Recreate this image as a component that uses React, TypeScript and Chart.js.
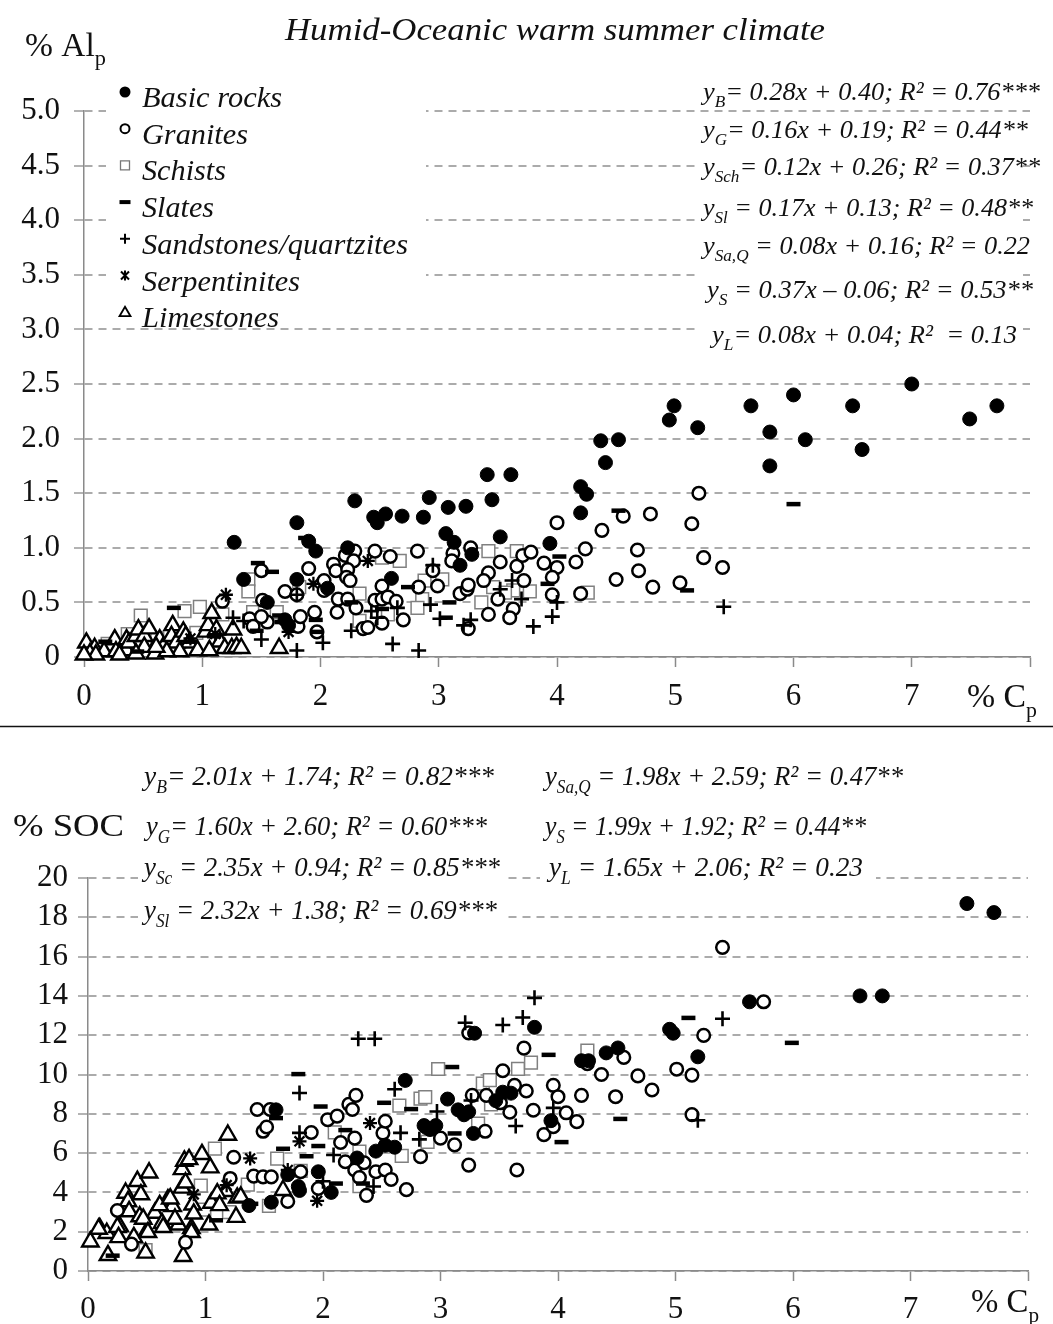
import React, { useEffect, useRef } from 'react';
import { Chart, registerables } from 'chart.js';

Chart.register(...registerables);

type Pt = [number, number];

// ---------------- Top panel: % Alp vs % Cp ----------------
const alBasic: Pt[] = [
  [1.27, 1.05], [1.80, 1.23], [1.90, 1.06], [1.96, 0.97], [1.35, 0.71], [1.80, 0.71], [2.06, 0.63], [1.55, 0.50],
  [1.70, 0.34], [1.73, 0.29], [2.23, 1.00], [2.29, 1.43], [2.45, 1.28], [2.48, 1.23], [2.55, 1.31], [2.60, 0.72],
  [2.69, 1.29], [2.87, 1.28], [2.92, 1.46], [3.06, 1.13], [3.08, 1.37], [3.13, 1.05], [3.18, 0.84], [3.23, 1.38],
  [3.28, 0.94], [3.41, 1.67], [3.45, 1.44], [3.52, 1.10], [3.61, 1.67], [3.94, 1.04], [4.20, 1.56], [4.25, 1.49],
  [4.20, 1.32], [4.37, 1.98], [4.41, 1.78], [4.52, 1.99], [4.95, 2.17], [4.99, 2.30], [5.19, 2.10], [5.64, 2.30],
  [5.80, 2.06], [5.80, 1.75], [6.00, 2.40], [6.10, 1.99], [6.50, 2.30], [6.58, 1.90], [7.00, 2.50], [7.49, 2.18],
  [7.72, 2.30],
];
const alGranite: Pt[] = [
  [1.17, 0.51], [1.50, 0.79], [1.70, 0.60], [1.80, 0.57], [1.90, 0.81], [1.51, 0.52], [1.40, 0.35], [1.43, 0.28],
  [1.55, 0.32], [1.50, 0.37], [1.81, 0.28], [1.83, 0.37], [1.95, 0.41], [1.97, 0.23], [2.03, 0.61], [2.29, 0.97],
  [2.21, 0.93], [2.11, 0.85], [2.28, 0.88], [2.13, 0.79], [2.23, 0.80], [2.22, 0.73], [2.25, 0.70], [2.03, 0.70],
  [2.15, 0.53], [2.23, 0.53], [2.30, 0.45], [2.14, 0.41], [2.46, 0.97], [2.59, 0.92], [2.52, 0.65], [2.46, 0.52],
  [2.52, 0.53], [2.57, 0.55], [2.64, 0.51], [2.52, 0.31], [2.70, 0.34], [2.36, 0.26], [2.40, 0.27], [2.82, 0.97],
  [2.95, 0.79], [2.83, 0.64], [2.99, 0.65], [3.12, 0.95], [3.11, 0.88], [3.27, 1.00], [3.18, 0.58], [3.24, 0.62],
  [3.25, 0.66], [3.25, 0.26], [3.42, 0.77], [3.38, 0.70], [3.52, 0.87], [3.42, 0.39], [3.50, 0.53], [3.63, 0.44],
  [3.60, 0.36], [3.66, 0.83], [3.71, 0.93], [3.78, 0.96], [3.72, 0.70], [3.89, 0.86], [4.00, 1.23], [4.00, 0.82],
  [3.96, 0.73], [3.96, 0.57], [4.24, 0.99], [4.16, 0.87], [4.38, 1.16], [4.56, 1.29], [4.79, 1.31], [4.68, 0.98],
  [4.69, 0.79], [4.50, 0.71], [4.81, 0.64], [5.14, 1.22], [5.20, 1.50], [5.04, 0.68], [5.24, 0.91], [5.40, 0.82],
  [4.20, 0.58],
];
const alSchist: Pt[] = [
  [1.39, 0.71], [1.39, 0.60], [1.82, 0.64], [0.48, 0.38], [0.85, 0.42], [0.98, 0.46], [1.17, 0.39], [1.43, 0.41],
  [1.53, 0.41], [1.63, 0.41], [0.37, 0.21], [0.95, 0.22], [2.33, 0.58], [2.52, 0.91], [2.67, 0.88], [2.95, 0.79],
  [3.03, 0.71], [2.88, 0.70], [2.86, 0.53], [2.82, 0.45], [2.57, 0.39], [2.33, 0.33], [3.42, 0.97], [3.66, 0.97],
  [3.36, 0.50], [3.46, 0.64], [3.63, 0.61], [3.77, 0.60], [3.56, 0.59], [4.26, 0.59], [0.20, 0.12], [0.62, 0.17],
];
const alSlate: Pt[] = [
  [0.18, 0.14], [0.76, 0.45], [1.47, 0.86], [1.59, 0.78], [1.87, 1.09], [1.46, 0.24], [1.65, 0.38], [1.67, 0.32],
  [1.96, 0.34], [1.97, 0.23], [2.26, 0.50], [2.52, 0.44], [2.74, 0.64], [3.09, 0.50], [3.06, 0.36], [3.92, 0.67],
  [4.02, 0.92], [4.52, 1.34], [5.10, 0.61], [6.00, 1.40], [0.45, 0.05], [0.90, 0.14], [1.10, 0.19],
];
const alSandstone: Pt[] = [
  [1.26, 0.36], [1.35, 0.33], [1.50, 0.16], [1.80, 0.06], [2.02, 0.13], [2.26, 0.24], [2.43, 0.42], [2.48, 0.36],
  [2.61, 0.12], [2.65, 0.45], [2.83, 0.06], [2.93, 0.48], [2.95, 0.84], [3.01, 0.35], [3.21, 0.29], [3.27, 0.34],
  [3.52, 0.62], [3.62, 0.70], [3.70, 0.53], [3.80, 0.28], [3.96, 0.37], [4.00, 0.50], [5.41, 0.46], [1.80, 0.57],
];
const alSerpentinite: Pt[] = [
  [0.90, 0.17], [1.11, 0.21], [1.20, 0.57], [1.73, 0.23], [1.94, 0.67], [2.40, 0.88],
];
const alLimestone: Pt[] = [
  [0.02, 0.13], [0.09, 0.08], [0.05, 0.03], [0.17, 0.05], [0.26, 0.16], [0.27, 0.05], [0.36, 0.16], [0.36, 0.06],
  [0.38, 0.13], [0.44, 0.19], [0.46, 0.25], [0.51, 0.19], [0.55, 0.26], [0.51, 0.09], [0.60, 0.03], [0.64, 0.16],
  [0.67, 0.09], [0.75, 0.29], [0.74, 0.19], [0.78, 0.13], [0.84, 0.23], [0.86, 0.19], [0.89, 0.13], [0.96, 0.06],
  [1.03, 0.23], [1.05, 0.29], [1.08, 0.40], [1.12, 0.25], [1.15, 0.14], [1.19, 0.08], [1.25, 0.08], [1.29, 0.09],
  [1.33, 0.08], [1.26, 0.25], [1.06, 0.06], [0.81, 0.05], [0.70, 0.05], [0.44, 0.03], [0.10, 0.02], [0.00, 0.02],
  [0.30, 0.02], [0.61, 0.09], [1.65, 0.08],
];

// ---------------- Bottom panel: % SOC vs % Cp ----------------
const socBasic: Pt[] = [
  [1.37, 3.33], [1.56, 3.50], [1.60, 8.20], [1.70, 4.90], [1.79, 4.30], [1.80, 4.10], [1.96, 5.05], [2.07, 4.00],
  [2.29, 5.75], [2.45, 6.10], [2.53, 6.40], [2.61, 6.30], [2.70, 9.70], [2.86, 7.40], [2.88, 7.30], [2.91, 7.20],
  [2.96, 7.40], [3.06, 8.75], [3.15, 8.20], [3.20, 7.95], [3.24, 8.10], [3.29, 12.10], [3.28, 7.00], [3.47, 8.67],
  [3.53, 9.10], [3.60, 9.05], [3.80, 12.40], [3.94, 7.65], [4.20, 10.70], [4.26, 10.70], [4.41, 11.10], [4.51, 11.35],
  [4.95, 12.30], [4.98, 12.10], [5.19, 10.90], [5.63, 13.70], [6.57, 14.00], [6.76, 14.00], [7.48, 18.70], [7.71, 18.24],
];
const socGranite: Pt[] = [
  [0.25, 3.08], [0.37, 1.37], [0.83, 1.46], [1.21, 4.71], [1.24, 5.79], [1.41, 4.83], [1.44, 8.22], [1.49, 7.11],
  [1.52, 7.33], [1.49, 4.79], [1.55, 8.22], [1.56, 4.79], [1.70, 3.54], [1.81, 5.05], [1.90, 7.05], [1.96, 4.20],
  [2.04, 7.70], [2.12, 7.88], [2.15, 6.54], [2.19, 5.56], [2.22, 8.48], [2.25, 8.22], [2.27, 5.14], [2.27, 6.76],
  [2.28, 8.94], [2.31, 4.76], [2.35, 5.51], [2.37, 3.85], [2.45, 5.05], [2.51, 7.02], [2.53, 7.62], [2.53, 5.14],
  [2.58, 4.66], [2.71, 4.14], [2.83, 5.82], [3.00, 6.76], [3.12, 6.42], [3.24, 5.39], [3.24, 12.12], [3.27, 8.94],
  [3.38, 7.11], [3.39, 8.94], [3.51, 8.56], [3.53, 10.19], [3.59, 8.08], [3.63, 9.45], [3.65, 5.14], [3.71, 11.34],
  [3.73, 9.16], [3.79, 8.18], [3.88, 6.94], [3.96, 7.34], [3.96, 9.45], [4.00, 8.87], [4.07, 8.05], [4.16, 7.60],
  [4.20, 8.94], [4.25, 10.55], [4.37, 10.00], [4.49, 8.87], [4.56, 10.87], [4.68, 9.93], [4.80, 9.21], [5.01, 10.27],
  [5.14, 9.97], [5.14, 7.96], [5.24, 11.99], [5.40, 16.47], [5.75, 13.70],
];
const socSchist: Pt[] = [
  [0.49, 1.06], [0.96, 4.35], [0.99, 3.12], [1.08, 6.23], [1.20, 3.00], [1.36, 4.40], [1.54, 3.32], [1.61, 5.72],
  [1.81, 5.09], [2.10, 7.05], [2.31, 6.08], [2.31, 4.32], [2.65, 8.42], [2.67, 5.86], [2.83, 8.77], [2.87, 8.85],
  [2.89, 6.57], [2.98, 10.28], [3.32, 7.50], [3.36, 9.54], [3.42, 9.71], [3.43, 8.48], [3.66, 10.29], [3.77, 10.60],
  [4.25, 11.22],
];
const socSlate: Pt[] = [
  [0.21, 0.78], [1.09, 2.58], [1.39, 3.42], [1.60, 7.78], [1.66, 6.22], [1.79, 10.02], [1.86, 5.84], [1.96, 6.36],
  [1.98, 8.37], [2.11, 4.45], [2.19, 7.17], [2.34, 4.45], [2.52, 8.56], [2.75, 8.24], [3.10, 10.38], [3.12, 7.00],
  [3.92, 11.00], [4.03, 6.56], [4.53, 7.74], [5.11, 12.88], [5.99, 11.61],
];
const socSandstone: Pt[] = [
  [1.80, 9.06], [1.80, 7.03], [2.00, 4.57], [2.09, 5.90], [2.30, 11.82], [2.44, 11.82], [2.43, 4.30], [2.61, 9.25],
  [2.66, 7.03], [2.82, 6.70], [2.97, 8.12], [3.21, 12.63], [3.26, 8.68], [3.53, 12.52], [3.64, 7.38], [3.70, 12.90],
  [3.80, 13.90], [3.96, 8.30], [5.19, 7.67], [5.40, 12.84],
];
const socSerpentinite: Pt[] = [
  [0.90, 3.90], [1.18, 4.37], [1.38, 5.73], [1.70, 5.14], [1.80, 6.60], [1.95, 3.57], [2.40, 7.53],
];
const socLimestone: Pt[] = [
  [0.02, 1.49], [0.10, 2.17], [0.16, 1.92], [0.17, 0.80], [0.27, 2.26], [0.32, 3.97], [0.34, 3.54], [0.35, 3.03],
  [0.42, 4.57], [0.45, 3.89], [0.44, 2.77], [0.52, 5.00], [0.50, 2.00], [0.49, 0.92], [0.57, 2.95], [0.63, 2.43],
  [0.68, 3.63], [0.72, 3.29], [0.77, 2.35], [0.80, 5.17], [0.82, 5.60], [0.80, 4.23], [0.83, 4.49], [0.86, 5.68],
  [0.89, 3.37], [0.88, 2.17], [0.81, 0.75], [0.97, 5.94], [1.04, 5.26], [1.05, 3.46], [1.03, 2.35], [1.17, 4.06],
  [1.19, 6.92], [1.27, 3.72], [1.26, 2.74], [1.66, 4.11], [0.09, 2.14], [0.25, 2.23], [0.39, 1.71], [0.26, 1.71],
  [0.61, 3.34], [0.70, 3.68], [0.74, 2.65], [0.47, 2.65], [0.90, 2.91], [0.88, 1.97], [1.10, 3.94], [1.12, 3.34],
  [1.30, 3.77], [0.51, 1.97], [0.64, 2.23],
];

// ---------------- Labels ----------------
const seriesNames = ['Basic rocks', 'Granites', 'Schists', 'Slates', 'Sandstones/quartzites', 'Serpentinites', 'Limestones'];
const seriesKinds = ['basic', 'granite', 'schist', 'slate', 'sand', 'serp', 'lime'];
const xTickMax = 8;

const alEqSubs = ['B', 'G', 'Sch', 'Sl', 'Sa,Q', 'S', 'L'];
const alEqTexts = [
  '= 0.28x + 0.40; R² = 0.76***',
  '= 0.16x + 0.19; R² = 0.44**',
  '= 0.12x + 0.26; R² = 0.37**',
  ' = 0.17x + 0.13; R² = 0.48**',
  ' = 0.08x + 0.16; R² = 0.22',
  ' = 0.37x – 0.06; R² = 0.53**',
  '= 0.08x + 0.04; R²  = 0.13',
];
const socEqSubs = ['B', 'G', 'Sc', 'Sl', 'Sa,Q', 'S', 'L'];
const socEqTexts = [
  '= 2.01x + 1.74; R² = 0.82***',
  '= 1.60x + 2.60; R² = 0.60***',
  ' = 2.35x + 0.94; R² = 0.85***',
  ' = 2.32x + 1.38; R² = 0.69***',
  ' = 1.98x + 2.59; R² = 0.47**',
  ' = 1.99x + 1.92; R² = 0.44**',
  ' = 1.65x + 2.06; R² = 0.23',
];

const SERIF = '"Liberation Serif", "DejaVu Serif", "Times New Roman", serif';

type Seg = { t: string; size: number; dy?: number; italic?: boolean };

function drawRich(ctx: CanvasRenderingContext2D, segs: Seg[], x: number, baseline: number, targetW?: number) {
  ctx.save();
  const fonts = segs.map((s) => `${s.italic ? 'italic ' : ''}${s.size}px ${SERIF}`);
  let total = 0;
  const ws = segs.map((s, i) => {
    ctx.font = fonts[i];
    const w = ctx.measureText(s.t).width;
    total += w;
    return w;
  });
  const sx = targetW ? targetW / total : 1;
  ctx.translate(x, baseline);
  ctx.scale(sx, 1);
  ctx.fillStyle = '#111';
  ctx.textBaseline = 'alphabetic';
  ctx.textAlign = 'left';
  let cx = 0;
  segs.forEach((s, i) => {
    ctx.font = fonts[i];
    ctx.fillText(s.t, cx, s.dy || 0);
    cx += ws[i];
  });
  ctx.restore();
}

function eqSegs(sub: string, rest: string, size: number): Seg[] {
  return [
    { t: 'y', size, italic: true },
    { t: sub, size: Math.round(size * 0.66), dy: size * 0.28, italic: true },
    { t: rest, size, italic: true },
  ];
}

function drawMarker(ctx: CanvasRenderingContext2D, kind: string, x: number, y: number) {
  ctx.save();
  ctx.strokeStyle = '#000';
  ctx.fillStyle = '#000';
  ctx.lineWidth = 2;
  ctx.beginPath();
  if (kind === 'basic') {
    ctx.arc(x, y, 5.5, 0, Math.PI * 2);
    ctx.fill();
  } else if (kind === 'granite') {
    ctx.arc(x, y, 4.5, 0, Math.PI * 2);
    ctx.stroke();
  } else if (kind === 'schist') {
    ctx.strokeStyle = '#777';
    ctx.lineWidth = 1.3;
    ctx.rect(x - 4.5, y - 4.5, 9, 9);
    ctx.stroke();
  } else if (kind === 'slate') {
    ctx.lineWidth = 4;
    ctx.moveTo(x - 5.5, y);
    ctx.lineTo(x + 5.5, y);
    ctx.stroke();
  } else if (kind === 'sand') {
    ctx.moveTo(x - 5, y);
    ctx.lineTo(x + 5, y);
    ctx.moveTo(x, y - 5);
    ctx.lineTo(x, y + 5);
    ctx.stroke();
  } else if (kind === 'serp') {
    ctx.moveTo(x - 4, y - 4);
    ctx.lineTo(x + 4, y + 4);
    ctx.moveTo(x + 4, y - 4);
    ctx.lineTo(x - 4, y + 4);
    ctx.moveTo(x, y - 5);
    ctx.lineTo(x, y + 5);
    ctx.stroke();
  } else if (kind === 'lime') {
    ctx.lineWidth = 1.8;
    ctx.moveTo(x, y - 5.5);
    ctx.lineTo(x + 5.5, y + 4);
    ctx.lineTo(x - 5.5, y + 4);
    ctx.closePath();
    ctx.stroke();
  }
  ctx.restore();
}

const pointStyles: Record<string, any> = {
  basic: { pointStyle: 'circle', pointRadius: 7, pointBackgroundColor: '#000', pointBorderColor: '#000', pointBorderWidth: 1 },
  granite: { pointStyle: 'circle', pointRadius: 6.3, pointBackgroundColor: '#fff', pointBorderColor: '#000', pointBorderWidth: 2.5 },
  schist: { pointStyle: 'rect', pointRadius: 9, pointBackgroundColor: '#fff', pointBorderColor: '#808080', pointBorderWidth: 1.5 },
  slate: { pointStyle: 'line', pointRadius: 7, pointBackgroundColor: '#000', pointBorderColor: '#000', pointBorderWidth: 4.5 },
  sand: { pointStyle: 'cross', pointRadius: 7.5, pointBackgroundColor: '#000', pointBorderColor: '#000', pointBorderWidth: 2.6 },
  serp: { pointStyle: 'star', pointRadius: 7, pointBackgroundColor: '#000', pointBorderColor: '#000', pointBorderWidth: 2.3 },
  lime: { pointStyle: 'triangle', pointRadius: 9.5, pointBackgroundColor: '#fff', pointBorderColor: '#000', pointBorderWidth: 2.4 },
};

function dataset(label: string, pts: Pt[], kind: string) {
  const st = pointStyles[kind];
  return {
    label,
    data: pts.map(([x, y]) => ({ x, y })),
    showLine: false,
    clip: false,
    ...st,
    pointHoverRadius: st.pointRadius,
  };
}

function buildOptions(cfg: any) {
  return {
    animation: false,
    responsive: false,
    devicePixelRatio: 1,
    events: [],
    layout: { padding: { top: cfg.padTop, right: cfg.padRight, left: 0, bottom: 0 } },
    plugins: { legend: { display: false }, tooltip: { enabled: false }, title: { display: false } },
    scales: {
      x: {
        type: 'linear',
        min: 0,
        max: xTickMax,
        afterFit: (s: any) => { s.height = cfg.xH; },
        ticks: {
          stepSize: 1,
          autoSkip: false,
          maxRotation: 0,
          padding: cfg.xPad,
          color: '#111',
          font: { family: SERIF, size: 31 },
          callback: (v: any) => (v < xTickMax ? String(v) : ''),
        },
        grid: { drawOnChartArea: false, drawTicks: true, tickLength: 10, tickColor: '#8a8a8a', tickWidth: 1.5 },
        border: { color: '#8a8a8a', width: 1.5 },
      },
      y: {
        type: 'linear',
        min: 0,
        max: cfg.yMax,
        afterFit: (s: any) => { s.width = cfg.yW; },
        ticks: {
          stepSize: cfg.yStep,
          autoSkip: false,
          padding: cfg.yPad,
          color: '#111',
          font: { family: SERIF, size: 31 },
          callback: cfg.yFmt,
        },
        grid: { color: '#ababab', lineWidth: 2, tickLength: 10, tickColor: '#9a9a9a', tickWidth: 1.5 },
        border: { color: '#8a8a8a', width: 1.5, dash: [8, 6] },
      },
    },
  };
}

export default function App() {
  const topRef = useRef<HTMLCanvasElement | null>(null);
  const botRef = useRef<HTMLCanvasElement | null>(null);

  useEffect(() => {
    const topDeco = {
      id: 'topDeco',
      beforeDatasetsDraw(chart: any) {
        const ctx = chart.ctx;
        ctx.save();
        ctx.fillStyle = '#fff';
        ctx.fillRect(106, 78, 320, 246);
        ctx.fillRect(699, 140, 324, 210);
        ctx.restore();
      },
      afterDraw(chart: any) {
        const ctx: CanvasRenderingContext2D = chart.ctx;
        drawRich(ctx, [{ t: 'Humid-Oceanic warm summer climate', size: 31, italic: true }], 285, 40, 540);
        drawRich(ctx, [{ t: '% Al', size: 33 }, { t: 'p', size: 22, dy: 9 }], 25, 56, 81);
        const legW = [140, 106, 84, 72, 266, 158, 137];
        seriesNames.forEach((name, i) => {
          const base = 107 + i * 36.7;
          drawMarker(ctx, seriesKinds[i], 125, base - 15);
          drawRich(ctx, [{ t: name, size: 30, italic: true }], 142, base, legW[i]);
        });
        const eqX = [703, 703, 703, 703, 703, 707, 712];
        const eqR = [1040, 1028, 1040, 1033, 1030, 1033, 1017];
        const eqB = [100, 138, 175, 216, 254, 298, 343];
        alEqSubs.forEach((sub, i) => {
          drawRich(ctx, eqSegs(sub, alEqTexts[i], 26), eqX[i], eqB[i], eqR[i] - eqX[i]);
        });
        drawRich(ctx, [{ t: '% C', size: 34 }, { t: 'p', size: 22, dy: 10 }], 967, 707, 70);
        ctx.save();
        ctx.strokeStyle = '#111';
        ctx.lineWidth = 1.5;
        ctx.beginPath();
        ctx.moveTo(0, 726.5);
        ctx.lineTo(1053, 726.5);
        ctx.stroke();
        ctx.restore();
      },
    };

    const botDeco = {
      id: 'botDeco',
      beforeDatasetsDraw(chart: any) {
        const ctx = chart.ctx;
        ctx.save();
        ctx.fillStyle = '#fff';
        ctx.fillRect(138, 25, 368, 172);
        ctx.fillRect(540, 25, 336, 135);
        ctx.restore();
      },
      afterDraw(chart: any) {
        const ctx: CanvasRenderingContext2D = chart.ctx;
        drawRich(ctx, [{ t: '% SOC', size: 31 }], 13, 108, 111);
        const lx = [144, 146, 144, 144, 545, 545, 549];
        const lr = [494, 487, 500, 497, 903, 866, 863];
        const lb = [57, 107, 148, 191, 57, 107, 148];
        socEqSubs.forEach((sub, i) => {
          drawRich(ctx, eqSegs(sub, socEqTexts[i], 28), lx[i], lb[i], lr[i] - lx[i]);
        });
        drawRich(ctx, [{ t: '% C', size: 34 }, { t: 'p', size: 22, dy: 10 }], 971, 584, 68);
      },
    };

    const topChart = new Chart(topRef.current as HTMLCanvasElement, {
      type: 'scatter',
      data: {
        datasets: [
          dataset(seriesNames[0], alBasic, 'basic'),
          dataset(seriesNames[3], alSlate, 'slate'),
          dataset(seriesNames[4], alSandstone, 'sand'),
          dataset(seriesNames[5], alSerpentinite, 'serp'),
          dataset(seriesNames[1], alGranite, 'granite'),
          dataset(seriesNames[6], alLimestone, 'lime'),
          dataset(seriesNames[2], alSchist, 'schist'),
        ],
      },
      options: buildOptions({
        padTop: 111, padRight: 23, xH: 728 - 657, yW: 84, xPad: 11, yPad: 14,
        yMax: 5, yStep: 0.5,
        yFmt: (v: any) => (v === 0 ? '0' : Number(v).toFixed(1)),
      }) as any,
      plugins: [topDeco],
    });

    const botChart = new Chart(botRef.current as HTMLCanvasElement, {
      type: 'scatter',
      data: {
        datasets: [
          dataset(seriesNames[0], socBasic, 'basic'),
          dataset(seriesNames[3], socSlate, 'slate'),
          dataset(seriesNames[4], socSandstone, 'sand'),
          dataset(seriesNames[5], socSerpentinite, 'serp'),
          dataset(seriesNames[1], socGranite, 'granite'),
          dataset(seriesNames[6], socLimestone, 'lime'),
          dataset(seriesNames[2], socSchist, 'schist'),
        ],
      },
      options: buildOptions({
        padTop: 150, padRight: 25, xH: 596 - 543, yW: 88, xPad: 10, yPad: 10,
        yMax: 20, yStep: 2,
        yFmt: (v: any) => String(v),
      }) as any,
      plugins: [botDeco],
    });

    return () => {
      topChart.destroy();
      botChart.destroy();
    };
  }, []);

  return (
    <div style={{ position: 'absolute', left: 0, top: 0, width: 1053, height: 1324, background: '#fff', overflow: 'hidden' }}>
      <canvas ref={topRef} width={1053} height={728} style={{ position: 'absolute', left: 0, top: 0, width: 1053, height: 728 }} />
      <canvas ref={botRef} width={1053} height={596} style={{ position: 'absolute', left: 0, top: 728, width: 1053, height: 596 }} />
    </div>
  );
}
